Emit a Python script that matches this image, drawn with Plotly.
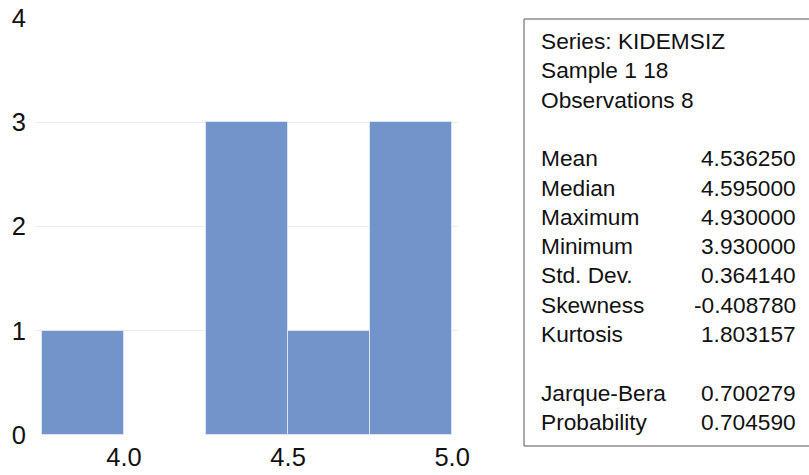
import plotly.graph_objects as go

# Histogram bins (left edges) and counts
bin_left = [3.75, 4.00, 4.25, 4.50, 4.75]
bin_width = 0.25
counts = [1, 0, 3, 1, 3]

x_ticks = [4.0, 4.5, 5.0]
x_tick_labels = ["4.0", "4.5", "5.0"]
y_ticks = [0, 1, 2, 3, 4]

stat_labels = ["Series: KIDEMSIZ", "Sample 1 18", "Observations 8", "",
               "Mean", "Median", "Maximum", "Minimum", "Std. Dev.",
               "Skewness", "Kurtosis", "", "Jarque-Bera", "Probability"]
stat_values = ["", "", "", "",
               "4.536250", "4.595000", "4.930000", "3.930000", "0.364140",
               "-0.408780", "1.803157", "", "0.700279", "0.704590"]

W, H = 809, 475
ML, MR, MT, MB = 35, 351, 18, 40
PW, PH = W - ML - MR, H - MT - MB
FONT = "Arial, Liberation Sans, sans-serif"

def px_x(p):
    return (p - ML) / PW

def px_y(p):
    return (H - MB - p) / PH

fig = go.Figure()
fig.add_trace(go.Bar(
    x=bin_left, y=counts, width=[bin_width] * len(counts), offset=0,
    marker=dict(color="#7394cb",
                line=dict(color="#dde4f0", width=[1 if c > 0 else 0 for c in counts])),
    showlegend=False, hoverinfo="skip",
))

annotations = []
line0 = 41
step = 29.3
for i, (lab, val) in enumerate(zip(stat_labels, stat_values)):
    yy = px_y(line0 + i * step)
    if lab:
        annotations.append(dict(x=px_x(539), y=yy, xref="paper", yref="paper",
                                text=lab, showarrow=False, xanchor="left", yanchor="middle",
                                font=dict(family=FONT, size=22.7, color="#111111")))
    if val:
        annotations.append(dict(x=px_x(798), y=yy, xref="paper", yref="paper",
                                text=val, showarrow=False, xanchor="right", yanchor="middle",
                                font=dict(family=FONT, size=22.7, color="#111111")))

fig.update_layout(
    template="none",
    width=W, height=H,
    margin=dict(l=ML, r=MR, t=MT, b=MB, pad=0, autoexpand=False),
    paper_bgcolor="white", plot_bgcolor="white",
    font=dict(family=FONT, color="#111111"),
    bargap=0,
    xaxis=dict(range=[3.7285, 5.018], tickvals=x_ticks, ticktext=x_tick_labels,
               showgrid=False, zeroline=False, showline=False, ticks="",
               automargin=False, ticklabelstandoff=4,
               tickfont=dict(size=25.5, color="#111111")),
    yaxis=dict(range=[0, 4], tickvals=y_ticks, showgrid=False, zeroline=False,
               showline=False, ticks="", automargin=False, ticklabelstandoff=8,
               tickfont=dict(size=25.5, color="#111111"),
               minor=dict(tickvals=[1, 2, 3], showgrid=True, gridcolor="#ebebeb", gridwidth=1)),
    shapes=[dict(type="rect", xref="paper", yref="paper",
                 x0=px_x(524), x1=px_x(830), y0=px_y(446), y1=px_y(19),
                 line=dict(color="#555555", width=1), fillcolor="rgba(0,0,0,0)")],
    annotations=annotations,
)

fig.write_html("out.html",
               config={"displayModeBar": False},
               post_script="document.body.style.margin='0';document.body.style.overflow='hidden';")
